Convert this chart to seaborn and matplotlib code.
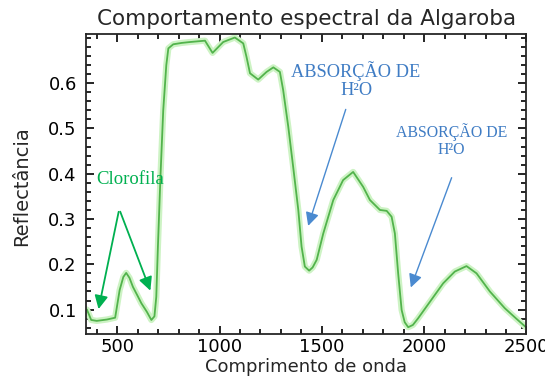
import numpy as np
import pandas as pd
import seaborn as sns
import matplotlib.pyplot as plt
from matplotlib.ticker import MultipleLocator

# dados
comprimento = [352, 373, 400, 450, 490, 512, 530, 544, 560, 577, 600, 618, 645, 667,
               682, 691, 699, 712, 725, 740, 750, 774, 815, 856, 929, 966, 1018,
               1075, 1116, 1132, 1149, 1189, 1230, 1263, 1295, 1311, 1336, 1360,
               1385, 1401, 1417, 1438, 1455, 1475, 1507, 1556, 1604, 1653, 1702,
               1735, 1784, 1817, 1841, 1857, 1873, 1890, 1905, 1922, 1945, 1971,
               2028, 2093, 2150, 2207, 2256, 2321, 2394, 2450, 2500]
reflectancia = [0.100, 0.077, 0.075, 0.078, 0.082, 0.143, 0.172, 0.181, 0.170, 0.150,
                0.130, 0.114, 0.095, 0.077, 0.085, 0.128, 0.239, 0.40, 0.54, 0.64,
                0.677, 0.686, 0.689, 0.691, 0.694, 0.667, 0.691, 0.701, 0.688, 0.658,
                0.622, 0.608, 0.625, 0.635, 0.625, 0.585, 0.504, 0.415, 0.32, 0.239,
                0.195, 0.186, 0.193, 0.21, 0.268, 0.342, 0.386, 0.404, 0.371, 0.342,
                0.32, 0.318, 0.305, 0.268, 0.18, 0.099, 0.072, 0.061, 0.066, 0.081,
                0.117, 0.158, 0.184, 0.196, 0.18, 0.14, 0.103, 0.08, 0.06]

df = pd.DataFrame({'Comprimento de onda': comprimento, 'Reflectância': reflectancia})

sns.set_style("ticks")
plt.rcParams['font.family'] = ['DejaVu Sans']

fig = plt.figure(figsize=(5.45, 3.76), dpi=100)
ax = fig.add_axes([0.1587, 0.1117, 0.8073, 0.797])

# halo verde claro + linha
sns.lineplot(data=df, x='Comprimento de onda', y='Reflectância', ax=ax,
             color='#cdf3c4', lw=4.5, sort=False)
sns.lineplot(data=df, x='Comprimento de onda', y='Reflectância', ax=ax,
             color='#52b34c', lw=1.3, sort=False)

ax.set_xlim(350, 2500)
ax.set_ylim(0.046, 0.708)
ax.set_xticks([500, 1000, 1500, 2000, 2500])
ax.set_xticklabels(['500', '1000', '1500', '2000', '2500'])
ax.set_yticks([0.1, 0.2, 0.3, 0.4, 0.5, 0.6])
ax.xaxis.set_minor_locator(MultipleLocator(100))
ax.yaxis.set_minor_locator(MultipleLocator(0.02))
ax.tick_params(which='both', direction='in', top=True, right=True, width=1.2,
               labelsize=13, colors='black')
ax.tick_params(which='major', length=6)
ax.tick_params(which='minor', length=3.5)
ax.tick_params(axis='x', which='major', pad=3)
ax.tick_params(axis='y', which='major', pad=7)
for s in ax.spines.values():
    s.set_linewidth(1.3)

ax.set_title('Comportamento espectral da Algaroba', fontsize=15.5, y=1.05,
             va='center', pad=0)
ax.set_xlabel('Comprimento de onda', fontsize=13, va='center')
ax.xaxis.set_label_coords(0.5, -0.11)
ax.set_ylabel('Reflectância', fontsize=14, va='center')
ax.yaxis.set_label_coords(-0.1466, 0.494)

# anotações
verde = '#00b050'
azul = '#4a8ad0'
serif = ['Liberation Serif', 'DejaVu Serif']
ax.text(565, 0.388, 'Clorofila', color=verde, fontsize=13.5, family=serif,
        ha='center', va='center')
for tip in [(406, 0.095), (667, 0.136)]:
    ax.annotate('', xy=tip, xytext=(510, 0.322),
                arrowprops=dict(arrowstyle='-|>', color=verde, lw=1.3, mutation_scale=20))

ax.text(1667, 0.607, 'ABSORÇÃO DE\nH²O', color='#3f7cc4', fontsize=13.2, family=serif,
        ha='center', va='center', linespacing=1.05)
ax.annotate('', xy=(1429, 0.279), xytext=(1621, 0.548),
            arrowprops=dict(arrowstyle='-|>', color=azul, lw=1.0, mutation_scale=20))

ax.text(2134, 0.474, 'ABSORÇÃO DE\nH²O', color='#3f7cc4', fontsize=11.4, family=serif,
        ha='center', va='center', linespacing=1.1)
ax.annotate('', xy=(1930, 0.143), xytext=(2139, 0.397),
            arrowprops=dict(arrowstyle='-|>', color=azul, lw=1.0, mutation_scale=20))

plt.savefig('out.png', dpi=100)
